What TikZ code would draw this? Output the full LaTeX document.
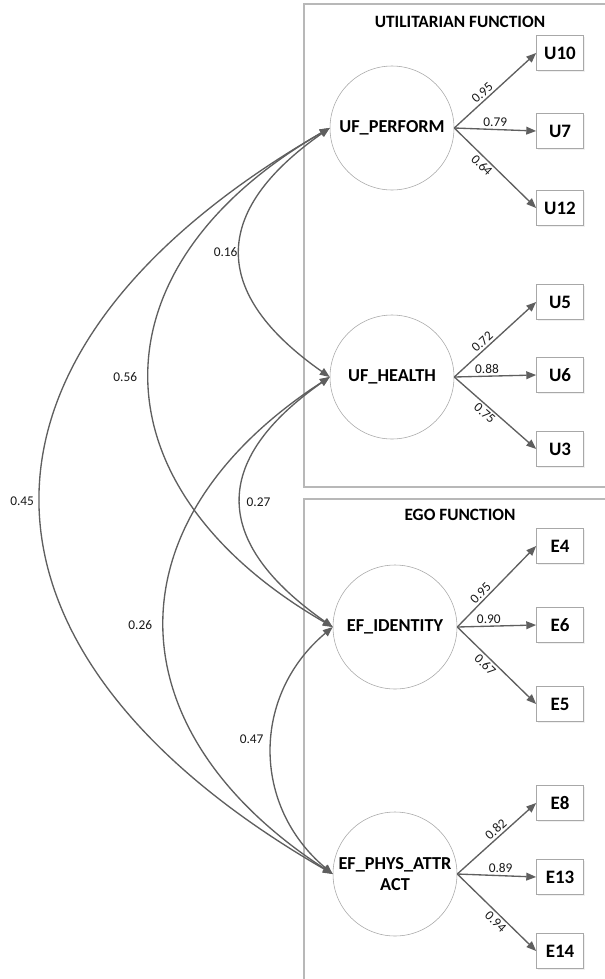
\documentclass[tikz,border=0pt]{standalone}
\usepackage{fontspec}
\setmainfont{Carlito}
\usepackage{xcolor}
\definecolor{linegray}{HTML}{5F5F5F}
\definecolor{framegray}{HTML}{B8B8B8}
\definecolor{rimgray}{HTML}{A8A8A8}
\usepackage{tikz}
\usetikzlibrary{positioning,arrows.meta,shadows}

\begin{document}
\begin{tikzpicture}[
    latent/.style={circle, draw=rimgray, line width=0.4pt, fill=white, minimum size=3.1cm, inner sep=0pt, align=center, font=\fontsize{13}{14.5}\selectfont\bfseries},
    indicator/.style={rectangle, draw=rimgray, line width=0.5pt, fill=white, minimum width=1.175cm, minimum height=0.875cm, font=\fontsize{13.5}{15}\selectfont\bfseries, drop shadow={shadow xshift=1.2pt, shadow yshift=-1.2pt, opacity=0.12}},
    group/.style={draw=framegray, line width=0.8pt},
    title/.style={font=\fontsize{12.3}{14}\selectfont\bfseries},
    load/.style={draw=linegray, line width=0.95pt, -{Triangle[length=7pt, width=5.5pt]}},
    cov/.style={draw=linegray, line width=0.95pt, {Triangle[length=7pt, width=5.5pt]}-{Triangle[length=7pt, width=5.5pt]}},
    coef/.style={font=\fontsize{9.5}{11}\selectfont, text=black!90, inner sep=1.5pt}]
  \useasboundingbox (0,0) rectangle (15.125,-24.475);
  % Groups
  \draw[group] (7.6,-0.1) rectangle (15.5,-12.175);
  \draw[group] (7.6,-12.475) rectangle (15.5,-25);
  \node[title] (tutil) at (11.5,-0.55) {UTILITARIAN FUNCTION};
  \node[title] (tego) at (11.5,-12.875) {EGO FUNCTION};
  % Latent factors
  \node[latent] (perf) at (9.8,-3.2) {UF\_PERFORM};
  \node[latent] (health) at (9.8,-9.425) {UF\_HEALTH};
  \node[latent] (ident) at (9.875,-15.675) {EF\_IDENTITY};
  \node[latent] (phys) at (9.875,-21.85) {EF\_PHYS\_ATTR\\ACT};
  % Indicators
  \node[indicator] (u10) at (14,-1.325) {U10};
  \node[indicator] (u7) at (14,-3.275) {U7};
  \node[indicator] (u12) at (14,-5.2) {U12};
  \node[indicator] (u5) at (14,-7.55) {U5};
  \node[indicator] (u6) at (14,-9.375) {U6};
  \node[indicator] (u3) at (14,-11.225) {U3};
  \node[indicator] (e4) at (14,-13.65) {E4};
  \node[indicator] (e6) at (14,-15.625) {E6};
  \node[indicator] (e5) at (14,-17.6) {E5};
  \node[indicator] (e8) at (14,-20.075) {E8};
  \node[indicator] (e13) at (14,-21.925) {E13};
  \node[indicator] (e14) at (14,-23.775) {E14};
  % Loadings
  \draw[load] (perf.east) -- node[coef, sloped, above, pos=0.4] {0.95} (u10.west);
  \draw[load] (perf.east) -- node[coef, above, pos=0.5] {0.79} (u7.west);
  \draw[load] (perf.east) -- node[coef, sloped, below, pos=0.4] {0.64} (u12.west);
  \draw[load] (health.east) -- node[coef, sloped, above, pos=0.4] {0.72} (u5.west);
  \draw[load] (health.east) -- node[coef, above, pos=0.4] {0.88} (u6.west);
  \draw[load] (health.east) -- node[coef, sloped, below, pos=0.43] {0.75} (u3.west);
  \draw[load] (ident.east) -- node[coef, sloped, above, pos=0.36] {0.95} (e4.west);
  \draw[load] (ident.east) -- node[coef, above, pos=0.4] {0.90} (e6.west);
  \draw[load] (ident.east) -- node[coef, sloped, below, pos=0.42] {0.67} (e5.west);
  \draw[load] (phys.east) -- node[coef, sloped, above, pos=0.55] {0.82} (e8.west);
  \draw[load] (phys.east) -- node[coef, above, pos=0.55] {0.89} (e13.west);
  \draw[load] (phys.east) -- node[coef, sloped, below, pos=0.55] {0.94} (e14.west);
  % Covariances
  \draw[cov] (perf.west) to[out=215, in=145, looseness=1.5] node[coef, left=0pt] {0.16} (health.west);
  \draw[cov] (perf.west) to[out=210, in=150, looseness=1.43] node[coef, left=7pt] {0.56} (ident.west);
  \draw[cov] (perf.west) to[out=210, in=150, looseness=1.53] node[coef, left=3pt] {0.45} (phys.west);
  \draw[cov] (health.west) to[out=215, in=145, looseness=1.5] node[coef, right=2pt] {0.27} (ident.west);
  \draw[cov] (health.west) to[out=213, in=147, looseness=1.36] node[coef, left=7pt] {0.26} (phys.west);
  \draw[cov] (ident.west) to[out=220, in=140, looseness=1.1] node[coef, left=4pt, yshift=8pt] {0.47} (phys.west);
\end{tikzpicture}
\end{document}
